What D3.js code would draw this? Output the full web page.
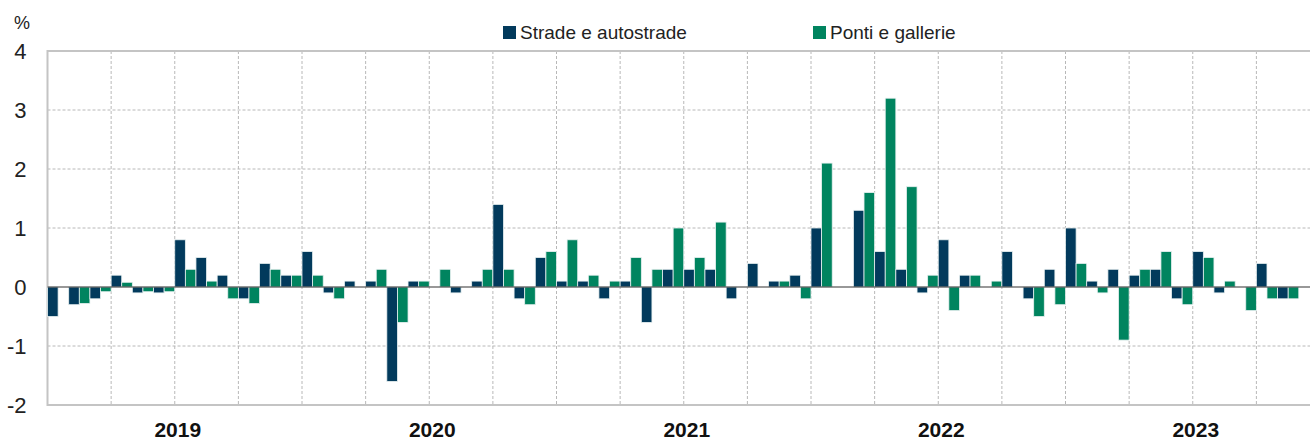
<!DOCTYPE html>
<meta charset="utf-8">
<style>
  body { margin: 0; background: #fff; }
  svg { display: block; font-family: "Liberation Sans Narrow", "Liberation Sans", Arial, sans-serif; }
</style>
<body>
<div id="chart"></div>
<script src="https://cdn.jsdelivr.net/npm/d3@7"></script>
<script>
  // categories: one per month, Jan 2019 .. Dec 2023
  const years = ["2019", "2020", "2021", "2022", "2023"];
  const monthNames = ["01", "02", "03", "04", "05", "06", "07", "08", "09", "10", "11", "12"];
  const yTicks = [-2, -1, 0, 1, 2, 3, 4];
  const seriesNames = ["Strade e autostrade", "Ponti e gallerie"];

  // monthly % changes (null = no bar)
  const strade = [
    -0.5, -0.3, -0.2, 0.2, -0.1, -0.1, 0.8, 0.5, 0.2, -0.2, 0.4, 0.2,
    0.6, -0.1, 0.1, 0.1, -1.6, 0.1, null, -0.1, 0.1, 1.4, -0.2, 0.5,
    0.1, 0.1, -0.2, 0.1, -0.6, 0.3, 0.3, 0.3, -0.2, 0.4, 0.1, 0.2,
    1.0, null, 1.3, 0.6, 0.3, -0.1, 0.8, 0.2, null, 0.6, -0.2, 0.3,
    1.0, 0.1, 0.3, 0.2, 0.3, -0.2, 0.6, -0.1, null, 0.4, -0.2, null
  ];
  const ponti = [
    null, -0.28, -0.08, 0.08, -0.08, -0.08, 0.3, 0.1, -0.2, -0.28, 0.3, 0.2,
    0.2, -0.2, null, 0.3, -0.6, 0.1, 0.3, null, 0.3, 0.3, -0.3, 0.6,
    0.8, 0.2, 0.1, 0.5, 0.3, 1.0, 0.5, 1.1, null, null, 0.1, -0.2,
    2.1, null, 1.6, 3.2, 1.7, 0.2, -0.4, 0.2, 0.1, null, -0.5, -0.3,
    0.4, -0.1, -0.9, 0.3, 0.6, -0.3, 0.5, 0.1, -0.4, -0.2, -0.2, null
  ];

  const months = d3.cross(years, monthNames, (y, m) => `${y}-${m}`);
  const colors = { "Strade e autostrade": "#023a5c", "Ponti e gallerie": "#00845f" };

  const width = 1310, height = 440;
  const margin = { top: 51, right: -10, bottom: 35, left: 47.5 };

  const x = d3.scaleBand()
      .domain(months)
      .range([margin.left, width - margin.right])
      .padding(0);
  const xs = d3.scaleBand()
      .domain(seriesNames)
      .range([0, x.bandwidth()]);
  const y = d3.scaleLinear()
      .domain([-2, 4])
      .range([height - margin.bottom, margin.top]);

  const svg = d3.select("#chart").append("svg")
      .attr("width", width)
      .attr("height", height);

  // horizontal grid
  svg.append("g")
    .selectAll("line")
    .data(yTicks.filter(d => d !== -2 && d !== 4 && d !== 0))
    .join("line")
      .attr("x1", margin.left).attr("x2", width - margin.right)
      .attr("y1", d => y(d)).attr("y2", d => y(d))
      .attr("stroke", "#b8b8b8")
      .attr("stroke-dasharray", "3,2");

  // vertical grid every quarter
  svg.append("g")
    .selectAll("line")
    .data(months.filter((d, i) => i > 0 && i % 3 === 0))
    .join("line")
      .attr("x1", d => x(d)).attr("x2", d => x(d))
      .attr("y1", y(4)).attr("y2", y(-2))
      .attr("stroke", "#b8b8b8")
      .attr("stroke-dasharray", "3,2");

  // plot frame
  svg.append("path")
      .attr("d", `M${width - margin.right},${y(4)}H${margin.left}V${y(-2)}H${width - margin.right}`)
      .attr("fill", "none")
      .attr("stroke", "#c4c4c4")
      .attr("stroke-width", 2);

  // bars
  const rows = months.map((m, i) => ({ m, values: [strade[i], ponti[i]] }));
  svg.append("g")
    .selectAll("g")
    .data(rows)
    .join("g")
      .attr("transform", d => `translate(${x(d.m)},0)`)
    .selectAll("rect")
    .data(d => d.values.map((v, k) => ({ key: seriesNames[k], v })).filter(d => d.v !== null))
    .join("rect")
      .attr("x", d => xs(d.key))
      .attr("width", xs.bandwidth())
      .attr("y", d => y(Math.max(0, d.v)))
      .attr("height", d => Math.abs(y(d.v) - y(0)))
      .attr("fill", d => colors[d.key])
      .attr("stroke", "#e8f0f0")
      .attr("stroke-width", 0.8);

  // zero line
  svg.append("line")
      .attr("x1", margin.left).attr("x2", width - margin.right)
      .attr("y1", y(0)).attr("y2", y(0))
      .attr("stroke", "#333")
      .attr("stroke-width", 1.2);

  // y axis labels (plain hyphen for negatives, as in the original)
  const yAxis = d3.axisLeft(y).tickValues(yTicks).tickFormat(d => String(d)).tickSize(0).tickPadding(21);
  svg.append("g")
      .attr("transform", `translate(${margin.left},0)`)
      .call(yAxis)
      .call(g => g.select(".domain").remove())
      .call(g => g.selectAll("text")
          .attr("font-size", 22)
          .attr("font-family", null)
          .attr("fill", "#222"));

  svg.append("text")
      .attr("x", 14).attr("y", 29)
      .attr("font-size", 18)
      .attr("fill", "#222")
      .text("%");

  // year labels centred on each year
  svg.append("g")
    .selectAll("text")
    .data(years)
    .join("text")
      .attr("x", d => x(`${d}-07`) + 3)
      .attr("y", 437)
      .attr("text-anchor", "middle")
      .attr("font-size", 21)
      .attr("font-weight", "bold")
      .attr("fill", "#111")
      .text(d => d);

  // legend
  const legendX = [503, 813];
  const legend = svg.append("g")
    .selectAll("g")
    .data(seriesNames)
    .join("g")
      .attr("transform", (d, i) => `translate(${legendX[i]},26)`);
  legend.append("rect")
      .attr("width", 13).attr("height", 13)
      .attr("fill", d => colors[d]);
  legend.append("text")
      .attr("x", 17).attr("y", 12.5)
      .attr("font-size", 19)
      .attr("fill", "#222")
      .text(d => d);
</script>
</body>
